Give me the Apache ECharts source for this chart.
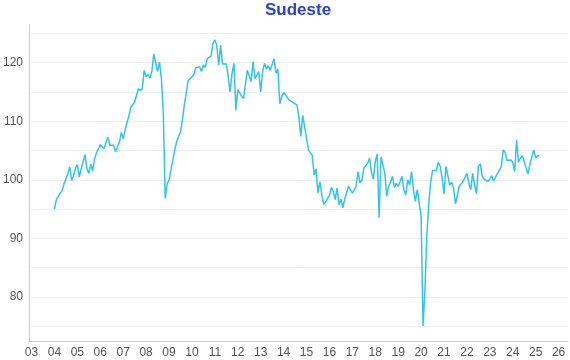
<!DOCTYPE html>
<html>
<head>
<meta charset="utf-8">
<script src="https://cdn.jsdelivr.net/npm/echarts@6/dist/echarts.min.js"></script>
<style>html,body{margin:0;padding:0;background:#fff}#c{width:570px;height:360px}</style>
</head>
<body>
<div id="c"></div>
<script>
// Monthly index, starting January 2004
const startYear = 2004;
const values = [
95.0,96.6,96.9,97.7,98.1,99.3,99.5,101.0,102.2,99.9,100.7,101.9,
102.6,100.5,101.9,101.6,104.3,101.9,101.1,102.7,101.5,103.6,104.6,105.3,
106.0,105.9,105.3,106.4,107.3,105.9,106.2,105.9,104.8,105.0,106.4,108.1,
107.0,108.4,109.8,110.9,112.4,112.1,113.3,113.0,115.6,115.2,115.6,118.7,
117.6,118.0,117.4,118.5,121.5,121.5,118.5,120.1,117.3,111.3,96.8,99.4,
99.9,101.7,103.4,105.1,106.5,107.4,108.2,110.2,112.8,114.8,116.9,117.2,
117.6,118.0,119.1,118.9,119.3,118.5,119.6,119.2,120.7,120.9,121.1,123.3,
123.9,123.0,119.6,123.0,119.8,119.8,119.8,117.6,115.0,118.2,119.9,111.9,
115.4,115.3,114.3,113.9,113.6,118.7,119.0,116.8,120.2,117.3,117.6,118.5,
115.0,118.5,119.9,118.9,119.5,118.7,118.7,120.7,118.2,118.9,113.0,114.2,
114.9,114.5,114.2,113.6,113.5,113.2,113.3,112.8,110.7,107.4,111.0,109.1,
108.8,105.1,104.6,104.2,100.8,101.9,97.7,99.7,97.4,95.8,96.2,96.8,
97.3,98.7,98.0,96.6,98.6,95.7,96.7,95.2,96.7,96.6,98.9,99.1,
97.7,97.4,98.9,101.4,99.5,99.9,102.0,102.3,102.8,103.7,101.3,100.1,
103.1,104.4,93.5,103.9,102.6,101.1,97.2,98.9,99.5,100.6,98.7,99.4,
98.9,99.7,100.6,98.3,97.4,100.0,99.1,101.4,98.3,96.3,98.3,98.6,
93.8,75.0,81.0,90.5,95.8,99.6,101.6,101.7,101.6,103.0,102.3,100.3,
97.6,102.3,102.0,99.1,99.6,98.6,95.9,95.9,98.9,99.3,99.7,99.9,
101.1,99.4,98.3,101.1,99.1,97.6,102.3,102.7,100.6,100.1,100.1,99.7,
100.1,100.7,99.8,100.1,101.1,101.3,102.2,105.1,104.7,103.3,103.3,103.4,
103.0,101.4,106.8,103.0,103.7,104.1,104.0,102.0,101.0,102.7,102.7,105.1,
103.7,104.1,104.1
];
const xTickLabels = [2003,2004,2005,2006,2007,2008,2009,2010,2011,2012,2013,2014,2015,2016,2017,2018,2019,2020,2021,2022,2023,2024,2025,2026];
const yLabelValues = [80,90,100,110,120];
const yGridValues = [75,80,85,90,95,100,105,110,115,120,125];

const seriesData = values.map((v, i) => [startYear + i / 12, v]);

const chart = echarts.init(document.getElementById('c'), null, {renderer: 'canvas'});
chart.setOption({
  animation: false,
  backgroundColor: '#ffffff',
  textStyle: {fontFamily: 'Liberation Sans, Arial, sans-serif'},
  title: {
    text: 'Sudeste',
    left: 265, top: 2, padding: 0,
    textStyle: {color: '#2b3fd8', fontSize: 17, fontWeight: 'bold', fontFamily: 'Liberation Sans, Arial, sans-serif'}
  },
  grid: {left: 26, right: 2, top: 25, bottom: 19, containLabel: false},
  xAxis: {
    type: 'value',
    min: 2002.89, max: 2026.41,
    axisLine: {show: true, lineStyle: {color: '#cccccc', width: 1}},
    axisTick: {show: false},
    splitLine: {show: false},
    axisLabel: {
      customValues: xTickLabels,
      color: '#555555', fontSize: 12, margin: 6,
      formatter: v => String(Math.round(v)).slice(2)
    }
  },
  yAxis: {
    type: 'value',
    min: 72.45, max: 126.45,
    axisLine: {show: true, lineStyle: {color: '#cccccc', width: 1}},
    axisTick: {show: false, customValues: yGridValues},
    splitLine: {show: true, lineStyle: {color: '#eeeeee', width: 1}},
    axisLabel: {
      customValues: yLabelValues,
      color: '#555555', fontSize: 12, margin: 6
    }
  },
  series: [{
    type: 'line',
    data: seriesData,
    showSymbol: false,
    symbol: 'none',
    lineStyle: {color: '#35c3ea', width: 1.5},
    itemStyle: {color: '#35c3ea'}
  }]
});
</script>
</body>
</html>
